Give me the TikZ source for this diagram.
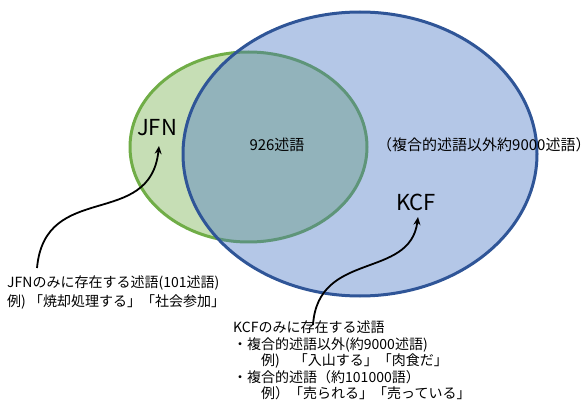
\documentclass[tikz,border=0pt]{standalone}
\usepackage{fontspec}
\setmainfont{Noto Sans CJK JP}
\usetikzlibrary{arrows.meta,shapes.geometric}
\definecolor{grn}{HTML}{70AD47}
\definecolor{blu}{HTML}{4472C4}
\definecolor{bluedge}{HTML}{2F5597}
\begin{document}
\begin{tikzpicture}[x=1pt,y=-1pt,
  setshape/.style={ellipse, inner sep=0pt, line width=3pt},
  setlabel/.style={inner sep=0pt, font=\fontsize{22}{26}\selectfont},
  midtext/.style={inner sep=0pt, font=\fontsize{15}{18}\selectfont},
  notetext/.style={inner sep=0pt, align=left, anchor=north west},
  pointer/.style={line width=1.8pt, -{Stealth[length=8pt,width=7pt]}}]
\useasboundingbox (0,0) rectangle (587,401);
% sets
\node[setshape, draw=grn, fill=grn, fill opacity=0.4,
      minimum width=237pt, minimum height=190pt] (jfnset) at (248.5,147) {};
\node[setshape, draw=bluedge, fill=blu, fill opacity=0.4,
      minimum width=354pt, minimum height=284pt] (kcfset) at (360,154) {};
% labels
\node[setlabel] (jfn) at (157,128) {JFN};
\node[setlabel] (kcf) at (416,202) {KCF};
\node[midtext] (both) at (277,145) {926述語};
\node[midtext, anchor=west] (kcfrest) at (377,145) {（複合的述語以外約9000述語）};
% notes
\node[notetext, font=\fontsize{14}{19}\selectfont] (jfnnote) at (7,276)
  {JFNのみに存在する述語(101述語)\\例) 「焼却処理する」「社会参加」};
\node[notetext, font=\fontsize{14}{16.5}\selectfont] (kcfnote) at (233,321)
  {KCFのみに存在する述語\\
   ・複合的述語以外(約9000述語)\\
   \hspace*{2em}例)　「入山する」「肉食だ」\\
   ・複合的述語（約101000語）\\
   \hspace*{2em}例）「売られる」「売っている」};
% pointers
\coordinate (ja) at (37,268);
\coordinate (jt) at (159,146);
\coordinate (ka) at (313,325);
\coordinate (kt) at (418,217);
\draw[pointer] (ja) .. controls (45,180) and (150,230) .. (jt);
\draw[pointer] (ka) .. controls (318,250) and (410,280) .. (kt);
\end{tikzpicture}
\end{document}
